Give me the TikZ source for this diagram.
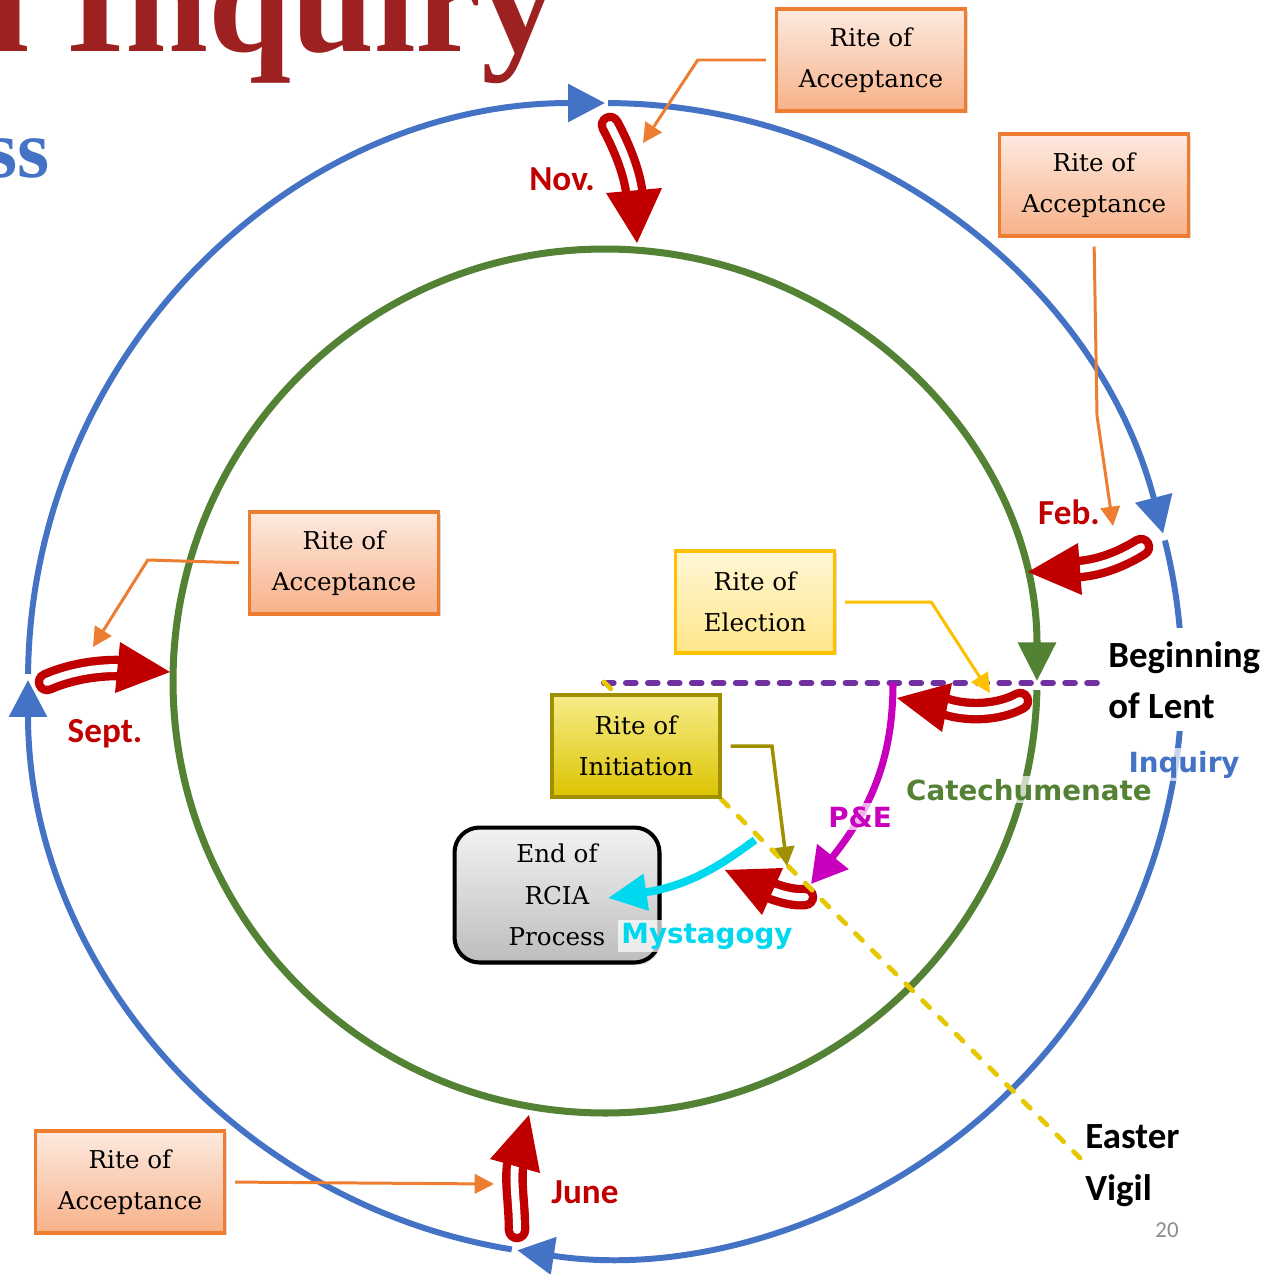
\documentclass[tikz,border=0pt]{standalone}
\usepackage{fontspec}
\newfontfamily\carlito{Carlito}
\newfontfamily\dejavu{DejaVu Sans}
\newfontfamily\dejaserif{DejaVu Serif}
\newfontfamily\libserif{Liberation Serif}
\usetikzlibrary{arrows.meta,shadows}
\definecolor{cblue}{HTML}{4472C4}
\definecolor{cgreen}{HTML}{548235}
\definecolor{cred}{HTML}{C00000}
\definecolor{corange}{HTML}{ED7D31}
\definecolor{cpurple}{HTML}{7030A0}
\definecolor{cgoldline}{HTML}{E5C800}
\definecolor{cgold}{HTML}{FFC000}
\definecolor{colive}{HTML}{A08F00}
\definecolor{cmag}{HTML}{C800BE}
\definecolor{ccyan}{HTML}{00D8F0}
\definecolor{ctitle}{HTML}{9E2121}
\definecolor{cnum}{HTML}{8C8C8C}
\definecolor{accTop}{HTML}{FDEAE0}
\definecolor{accBot}{HTML}{F7B189}
\definecolor{elTop}{HTML}{FFF7D6}
\definecolor{elBot}{HTML}{FFE68A}
\definecolor{inTop}{HTML}{F7EC8A}
\definecolor{inBot}{HTML}{DCC400}
\definecolor{endTop}{HTML}{F2F2F2}
\definecolor{endBot}{HTML}{BDBDBD}
\newcommand\blockarr[7]{%
  \draw[redshaft] #1 .. controls #2 and #3 .. #4;
  \draw[whiteshaft] #1 .. controls #2 and #3 .. #4;
  \fill[cred] #5 -- #6 -- #7 -- cycle;}
\begin{document}
\begin{tikzpicture}[x=0.02cm,y=-0.02cm,
  bluearc/.style={draw=cblue, line width=3.4pt, -{Triangle[length=21pt,width=21pt]}},
  greenarc/.style={draw=cgreen, line width=4pt, -{Triangle[length=22pt,width=21pt]}},
  redshaft/.style={draw=cred, line width=14pt, line cap=round},
  whiteshaft/.style={draw=white, line width=4.5pt, line cap=round},
  boxtext/.style={align=center, font={\dejaserif\fontsize{14}{23.5}\selectfont}, inner sep=0pt},
  shad/.style={drop shadow={opacity=0.28, shadow xshift=1.3pt, shadow yshift=-1.3pt}},
  accbox/.style={boxtext, shad, draw=corange, line width=2pt, top color=accTop, bottom color=accBot, minimum width=3.78cm, minimum height=2.04cm},
  elbox/.style={boxtext, shad, draw=cgold, line width=2pt, top color=elTop, bottom color=elBot, minimum width=3.18cm, minimum height=2.04cm},
  inbox/.style={boxtext, shad, draw=colive, line width=2.2pt, top color=inTop, bottom color=inBot, minimum width=3.36cm, minimum height=2.04cm},
  endbox/.style={boxtext, shad, draw=black, line width=2.3pt, rounded corners=0.5cm, top color=endTop, bottom color=endBot, minimum width=4.1cm, minimum height=2.7cm},
  accconn/.style={draw=corange, line width=1.7pt, -{Triangle[length=11pt,width=11pt]}, shorten <=5pt},
  elconn/.style={draw=cgold, line width=1.7pt, -{Triangle[length=11pt,width=11pt]}, shorten <=5pt},
  inconn/.style={draw=colive, line width=2pt, -{Triangle[length=11pt,width=11pt]}, shorten <=5pt},
  month/.style={font={\carlito\bfseries\fontsize{20}{24}\selectfont}, text=cred, inner sep=0pt, anchor=base},
  blacklab/.style={font={\carlito\bfseries\fontsize{21}{25}\selectfont}, text=black, inner sep=0pt, anchor=base west},
  phase/.style={font={\dejavu\bfseries\fontsize{15.8}{18}\selectfont}, fill=white, fill opacity=0.7, text opacity=1, inner sep=1.7pt, anchor=base}
]
\useasboundingbox (0,0) rectangle (1269,1274);
\fill[white] (0,0) rectangle (1269,1274);

% title fragments
\begin{scope}
\clip (0,0) rectangle (1269,1274);
\node[anchor=base east, inner sep=0pt, text=ctitle, font={\libserif\bfseries\fontsize{85}{90}\selectfont}] (title) at (557,52) {l Inquiry};
\node[anchor=base east, inner sep=0pt, text=cblue, font={\libserif\bfseries\fontsize{47}{50}\selectfont}] (subtitle) at (50,177) {ss};
\end{scope}

% circles
\coordinate (oc) at (605,680);
\coordinate (ic) at (605,681);
\draw[bluearc] ([shift={(180.6:577)}]oc) arc[start angle=180.6, end angle=270, radius=577];
\draw[bluearc] ([shift={(270.3:577)}]oc) arc[start angle=270.3, end angle=345.3, radius=577];
\draw[bluearc] ([shift={(346:577)}]oc) arc[start angle=346, end angle=458.75, radius=577];
\draw[bluearc] ([shift={(459.3:577)}]oc) arc[start angle=459.3, end angle=540, radius=577];
\draw[greenarc] ([shift={(1.2:432)}]ic) arc[start angle=1.2, end angle=360, radius=432];

% purple dashed line
\coordinate (dashL) at (604,683);
\coordinate (dashR) at (1107,683);
\draw[cpurple, line width=3.4pt, line cap=round, dash pattern=on 5.5pt off 7pt] (dashL) -- (dashR);

% red block arrows
\blockarr{(610,125)}{(618,140)}{(630,165)}{(634,190)}{(606,193)}{(637,243)}{(662,188)}
\blockarr{(1141,547)}{(1120,560)}{(1100,567)}{(1080,569)}{(1078,543)}{(1028,572)}{(1082,595)}
\blockarr{(47,682)}{(65,674)}{(90,668)}{(117,668)}{(120,642)}{(170,672)}{(115,693)}
\blockarr{(517,1230)}{(517,1205)}{(513,1185)}{(515,1166)}{(490,1159)}{(529,1115)}{(540,1173)}
\blockarr{(1020,701)}{(1000,712)}{(970,714)}{(947,707)}{(952,683)}{(897,698)}{(942,732)}
\blockarr{(805,897)}{(795,898)}{(783,895)}{(772,891)}{(783,868)}{(725,870)}{(762,915)}

% Easter vigil dashed line
\coordinate (evA) at (604,682);
\coordinate (evB) at (1080,1158);
\draw[cgoldline, line width=2.8pt, line cap=round, dash pattern=on 5.5pt off 8pt] (evA) -- (evB);

% P&E arrow
\coordinate (peS) at (893,683);
\coordinate (peT) at (811,884);
\draw[cmag, line width=4pt, -{Triangle[length=20pt,width=22pt]}] (peS) .. controls (893,760) and (870,810) .. (peT);

% boxes
\node[accbox] (accA) at (871,60) {Rite of\\Acceptance};
\node[accbox] (accB) at (1094,185) {Rite of\\Acceptance};
\node[accbox] (accC) at (344,563) {Rite of\\Acceptance};
\node[accbox] (accD) at (130,1182) {Rite of\\Acceptance};
\node[elbox] (elect) at (755,602) {Rite of\\Election};
\node[inbox] (init) at (636,746) {Rite of\\Initiation};
\node[endbox] (endr) at (557,895) {End of\\RCIA\\Process};

% Mystagogy arrow (over the end box)
\coordinate (myS) at (755,840);
\coordinate (myT) at (608,898);
\draw[ccyan, line width=4.5pt, -{Triangle[length=22pt,width=20pt]}] (myS) .. controls (730,858) and (695,885) .. (myT);

% connectors
\coordinate (tipA) at (643,143);
\coordinate (tipB) at (1113,526);
\coordinate (tipC) at (93,647);
\coordinate (tipD) at (494,1184);
\coordinate (tipE) at (990,693);
\coordinate (tipI) at (787,866);
\draw[accconn] (accA.west) -- ++(-77,0) -- (tipA);
\draw[accconn] (accB.south) -- ++(3,178) -- (tipB);
\draw[accconn] (accC.west) -- ++(-100,-3) -- (tipC);
\draw[accconn] (accD.east) -- (tipD);
\draw[elconn] (elect.east) -- ++(95,0) -- (tipE);
\draw[inconn] (init.east) -- ++(50,0) -- (tipI);

% labels
\node[month] (nov) at (562,190) {Nov.};
\node[month] (feb) at (1069,524) {Feb.};
\node[month] (sept) at (105,742) {Sept.};
\node[month] (june) at (585,1203) {June};

\node[fill=white, inner sep=0pt, minimum width=3.26cm, minimum height=2.06cm, anchor=north west] (lentbg) at (1106,628) {};
\node[blacklab] (lent1) at (1108,667) {Beginning};
\node[blacklab] (lent2) at (1108,718) {of Lent};
\node[blacklab] (ev1) at (1085,1148) {Easter};
\node[blacklab] (ev2) at (1085,1200) {Vigil};

\node[phase, text=cblue] (inq) at (1184,772) {Inquiry};
\node[phase, text=cgreen] (cat) at (1029,800) {Catechumenate};
\node[phase, text=cmag] (pe) at (860,827) {P\&E};
\node[phase, text=ccyan] (myst) at (707,943) {Mystagogy};

\node[anchor=base, inner sep=0pt, text=cnum, font={\carlito\fontsize{13}{15}\selectfont}] (pnum) at (1167,1237) {20};
\end{tikzpicture}
\end{document}
